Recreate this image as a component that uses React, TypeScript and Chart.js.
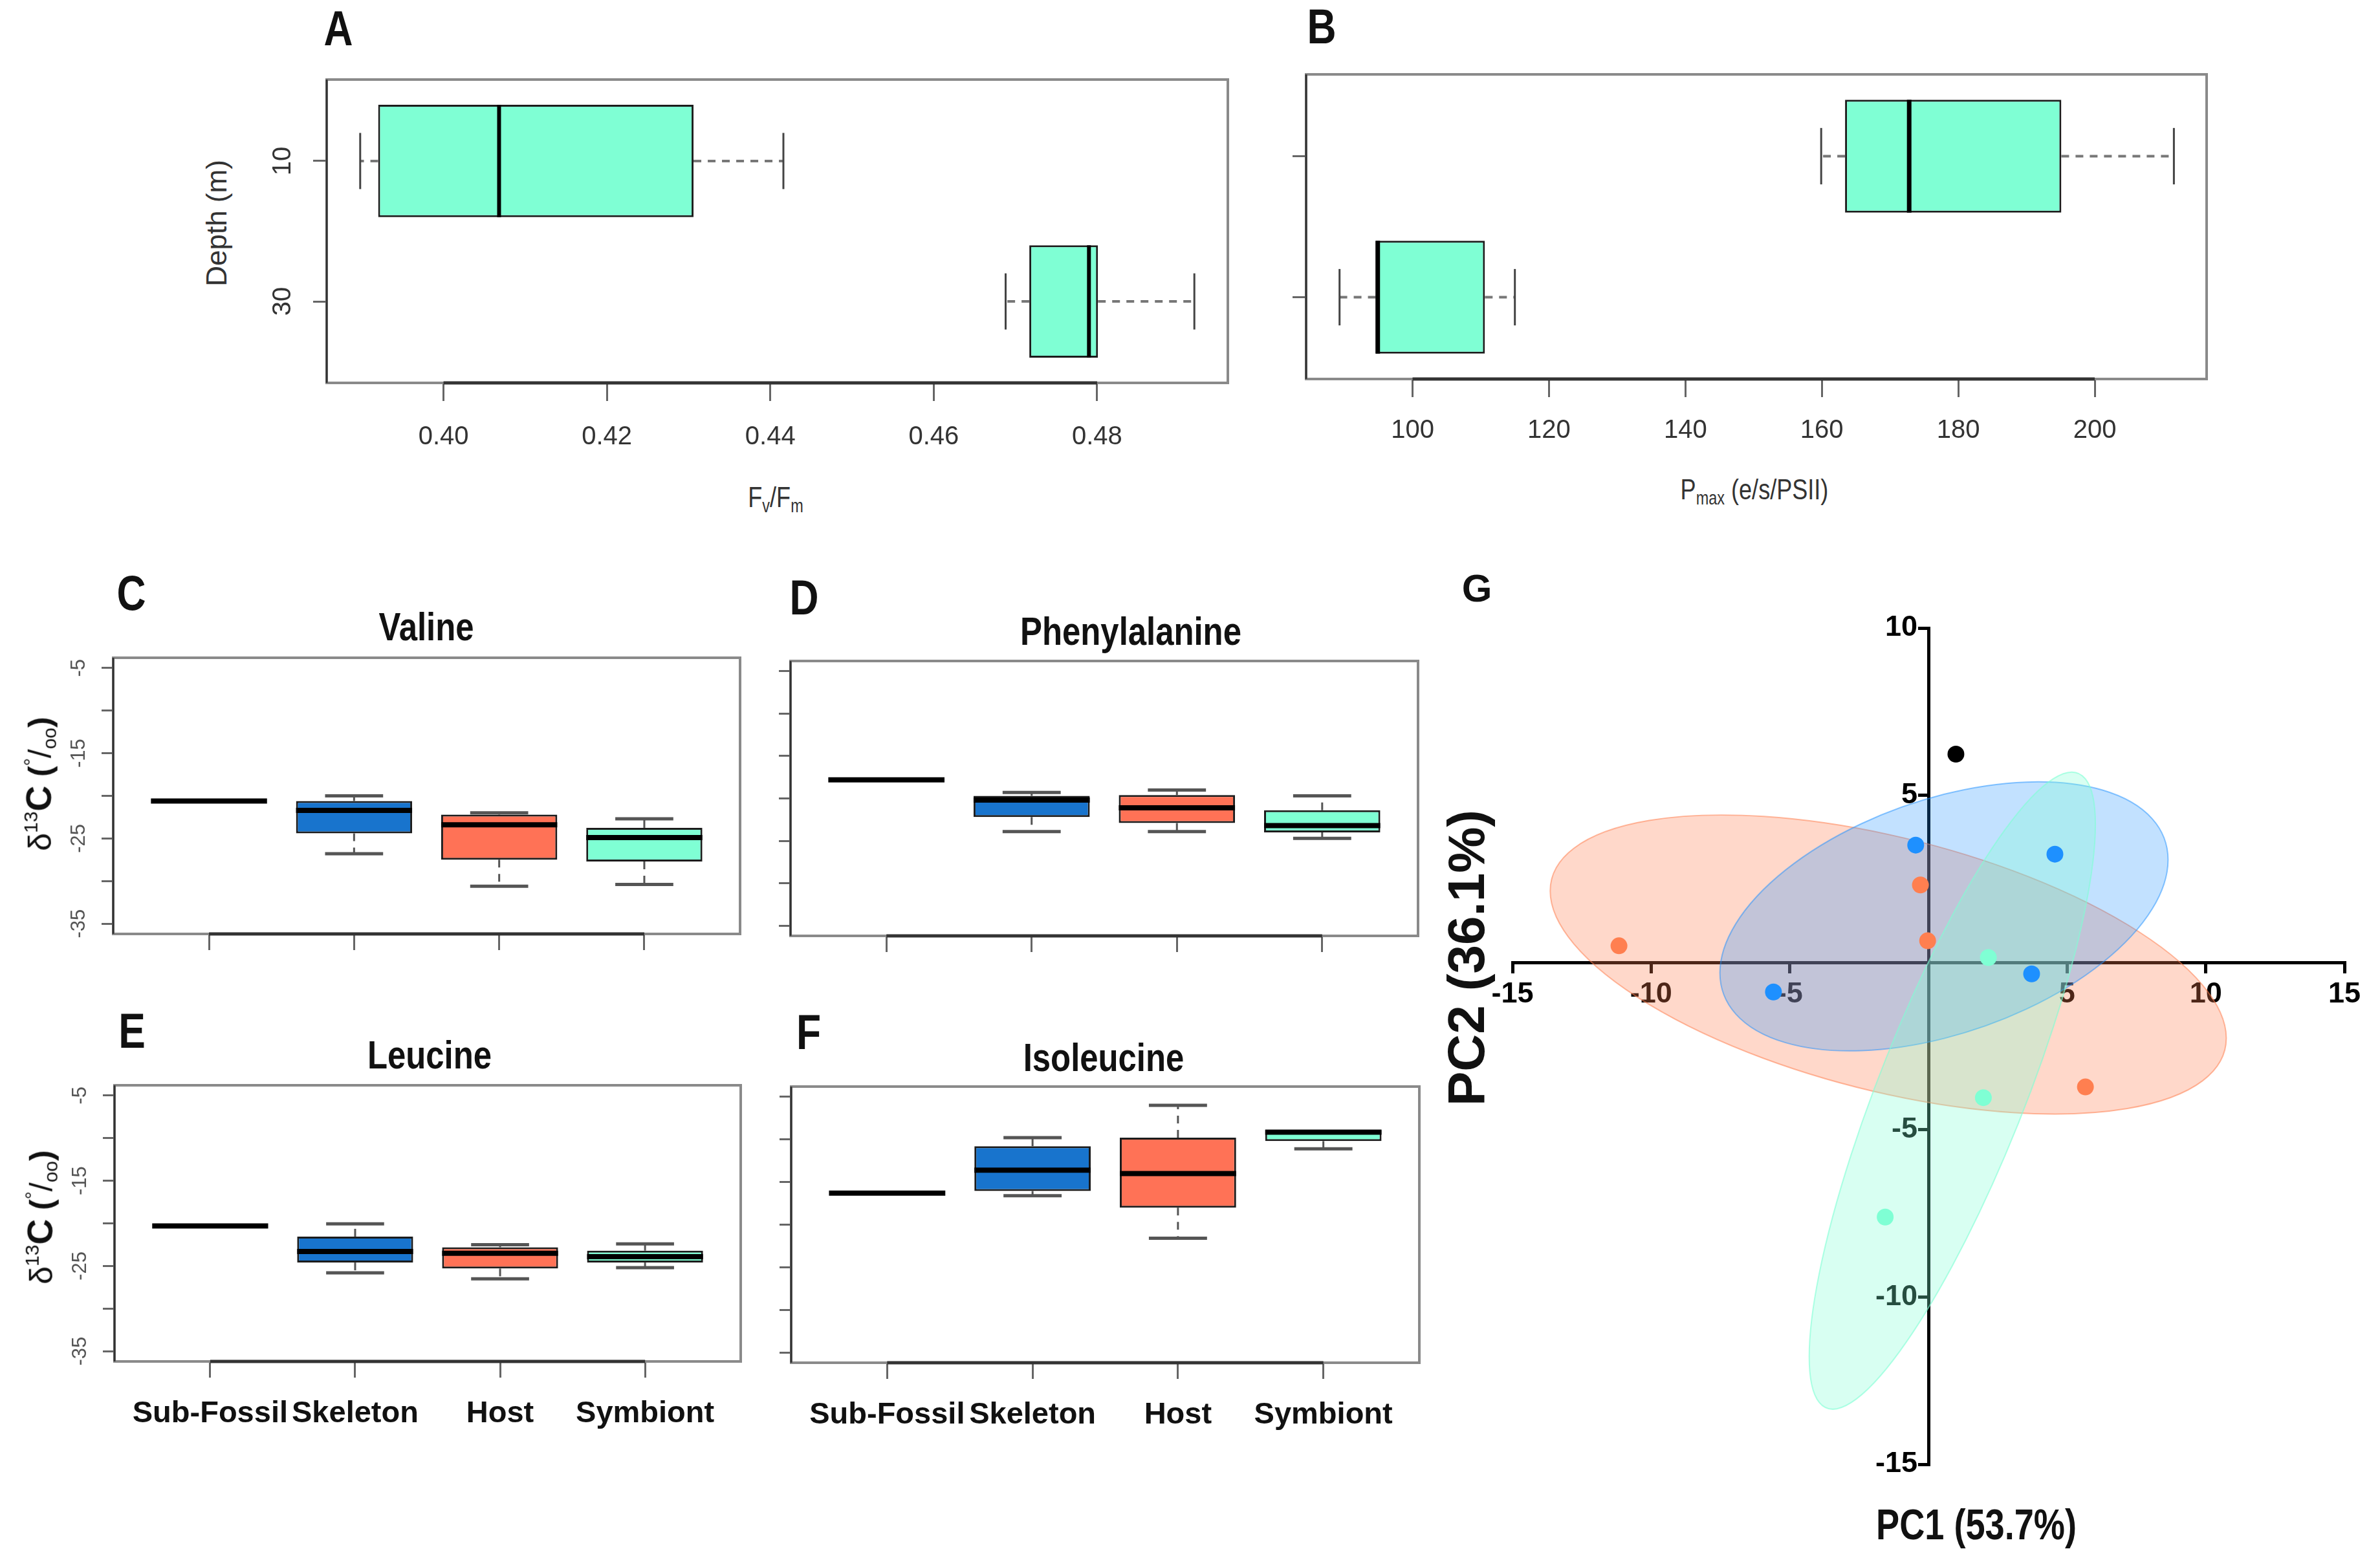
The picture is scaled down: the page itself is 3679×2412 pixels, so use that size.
import React, { useEffect, useRef } from 'react';
import { Chart, registerables } from 'chart.js';

Chart.register(...registerables);

// ---------------- Panel A : Fv/Fm by depth ----------------
const depthLabels = ['10', '30'];
const fvfmMin = [0.3898, 0.4688];
const fvfmQ1 = [0.392, 0.4717];
const fvfmMedian = [0.4068, 0.479];
const fvfmQ3 = [0.4306, 0.4801];
const fvfmMax = [0.4416, 0.4919];
const fvfmTicks = [0.4, 0.42, 0.44, 0.46, 0.48];
const fvfmRange = [0.3857, 0.496];

// ---------------- Panel B : Pmax by depth ----------------
const pmaxMin = [159.9, 89.3];
const pmaxQ1 = [163.4, 94.6];
const pmaxMedian = [172.8, 94.9];
const pmaxQ3 = [195.1, 110.6];
const pmaxMax = [211.6, 115.0];
const pmaxTicks = [100, 120, 140, 160, 180, 200];
const pmaxRange = [84.4, 216.4];

// ---------------- Panels C-F : d13C of amino acids ----------------
const sourceLabels = ['Sub-Fossil', 'Skeleton', 'Host', 'Symbiont'];
const sourceColors = ['rgba(0,0,0,0)', '#1874CD', '#FF7256', '#7FFFD4'];
const d13cTicks = [-35, -30, -25, -20, -15, -10, -5];
const d13cLabelledTicks = [-35, -25, -15, -5];
const d13cRange = [-36.2, -3.8];

const valineMin = [-20.6, -26.8, -30.6, -30.4];
const valineQ1 = [-20.6, -24.4, -27.5, -27.7];
const valineMedian = [-20.6, -21.7, -23.4, -24.9];
const valineQ3 = [-20.6, -20.6, -22.2, -23.75];
const valineMax = [-20.6, -20.0, -22.0, -22.7];

const pheMin = [-17.8, -23.9, -23.9, -24.7];
const pheQ1 = [-17.8, -22.2, -22.9, -24.0];
const pheMedian = [-17.8, -20.2, -21.1, -23.2];
const pheQ3 = [-17.8, -19.7, -19.6, -21.4];
const pheMax = [-17.8, -19.3, -19.0, -19.7];

const leucineMin = [-20.3, -25.8, -26.5, -25.2];
const leucineQ1 = [-20.3, -24.6, -25.3, -24.6];
const leucineMedian = [-20.3, -23.3, -23.5, -23.9];
const leucineQ3 = [-20.3, -21.55, -22.8, -23.2];
const leucineMax = [-20.3, -20.05, -22.5, -22.4];

const isoMin = [-16.3, -16.6, -21.6, -11.1];
const isoQ1 = [-16.3, -16.05, -18.0, -10.2];
const isoMedian = [-16.3, -13.6, -14.0, -9.15];
const isoQ3 = [-16.3, -10.8, -9.8, -8.9];
const isoMax = [-16.3, -9.8, -6.0, -8.9];

// ---------------- Panel G : PCA ----------------
const subFossilPC1 = [0.99];
const subFossilPC2 = [6.23];
const skeletonPC1 = [-0.46, 4.56, -5.59, 3.72];
const skeletonPC2 = [3.51, 3.24, -0.88, -0.34];
const hostPC1 = [-0.29, -0.03, -11.16, 5.66];
const hostPC2 = [2.32, 0.65, 0.5, -3.72];
const symbiontPC1 = [2.16, 1.98, -1.56];
const symbiontPC2 = [0.15, -4.04, -7.61];
const pcaTicks = [-15, -10, -5, 0, 5, 10, 15];

// ellipses (Host, Skeleton, Symbiont): centre, right-most point offset, vertical half-chord
const ellipseCenterPC1 = [-1.45, 0.56, 0.86];
const ellipseCenterPC2 = [-0.06, 1.38, -3.83];
const ellipseRightPC1 = [12.19, 8.08, 5.16];
const ellipseRightPC2 = [-2.2, 1.69, 7.95];
const ellipseHalfChordPC2 = [3.89, 3.65, 5.24];
const ellipseFill = ['rgba(255,127,80,0.3)', 'rgba(30,144,255,0.27)', 'rgba(127,255,212,0.3)'];
const ellipseStroke = ['rgba(255,127,80,0.55)', 'rgba(30,144,255,0.5)', 'rgba(127,255,212,0.6)'];

const SANS = "'Liberation Sans', Arial, sans-serif";

// ---------------- plugins ----------------
const whiskerPlugin: any = {
  id: 'rWhiskers',
  afterDatasetsDraw(chart: any, _a: any, o: any) {
    const ctx = chart.ctx;
    const iScale = o.horizontal ? chart.scales.y : chart.scales.x;
    const vScale = o.horizontal ? chart.scales.x : chart.scales.y;
    const P = (i: number, v: number) =>
      o.horizontal ? [vScale.getPixelForValue(v), iScale.getPixelForValue(i)] : [iScale.getPixelForValue(i), vScale.getPixelForValue(v)];
    const seg = (a: number[], b: number[]) => {
      ctx.beginPath();
      ctx.moveTo(a[0], a[1]);
      ctx.lineTo(b[0], b[1]);
      ctx.stroke();
    };
    ctx.save();
    ctx.lineCap = 'butt';
    o.mins.forEach((lo: number, k: number) => {
      const pos = k + 1;
      const q1 = o.q1s[k], med = o.meds[k], q3 = o.q3s[k], hi = o.maxs[k];
      ctx.setLineDash(o.dash);
      ctx.strokeStyle = o.whiskerColor;
      ctx.lineWidth = o.whiskerWidth;
      if (q1 !== lo) seg(P(pos, q1), P(pos, lo));
      if (q3 !== hi) seg(P(pos, q3), P(pos, hi));
      ctx.setLineDash([]);
      ctx.strokeStyle = o.capColor;
      ctx.lineWidth = o.capWidth;
      if (q1 !== lo) seg(P(pos - 0.2, lo), P(pos + 0.2, lo));
      if (q3 !== hi) seg(P(pos - 0.2, hi), P(pos + 0.2, hi));
      ctx.strokeStyle = '#000';
      ctx.lineWidth = o.medianWidth;
      seg(P(pos - 0.4, med), P(pos + 0.4, med));
    });
    ctx.restore();
  },
};

const framePlugin: any = {
  id: 'rFrame',
  afterDraw(chart: any, _a: any, o: any) {
    const ctx = chart.ctx;
    const a = chart.chartArea;
    ctx.save();
    ctx.strokeStyle = '#8a8a8a';
    ctx.lineWidth = 4;
    ctx.strokeRect(a.left, a.top, a.right - a.left, a.bottom - a.top);
    ctx.strokeStyle = '#333';
    ctx.lineWidth = 3;
    ctx.beginPath();
    ctx.moveTo(a.left, a.top);
    ctx.lineTo(a.left, a.bottom);
    ctx.stroke();
    const xs = chart.scales.x;
    ctx.lineWidth = 5;
    ctx.beginPath();
    ctx.moveTo(xs.getPixelForValue(o.axisFrom), a.bottom);
    ctx.lineTo(xs.getPixelForValue(o.axisTo), a.bottom);
    ctx.stroke();
    ctx.restore();
  },
};

const ellipsePlugin: any = {
  id: 'pcaEllipses',
  beforeDatasetsDraw(chart: any) {
    const ctx = chart.ctx;
    const x = chart.scales.x;
    const y = chart.scales.y;
    ellipseCenterPC1.forEach((c1: number, i: number) => {
      const c2 = ellipseCenterPC2[i];
      const cx = x.getPixelForValue(c1);
      const cy = y.getPixelForValue(c2);
      const ax = x.getPixelForValue(c1 + ellipseRightPC1[i]) - cx;
      const ay = y.getPixelForValue(c2 + ellipseRightPC2[i]) - cy;
      const by = y.getPixelForValue(c2 + ellipseHalfChordPC2[i]) - cy;
      ctx.save();
      ctx.beginPath();
      ctx.transform(ax, ay, 0, by, cx, cy);
      ctx.arc(0, 0, 1, 0, Math.PI * 2);
      ctx.restore();
      ctx.save();
      ctx.fillStyle = ellipseFill[i];
      ctx.fill();
      ctx.strokeStyle = ellipseStroke[i];
      ctx.lineWidth = 2;
      ctx.stroke();
      ctx.restore();
    });
  },
};

// ---------------- config builders ----------------
function boxplotConfig(o: any) {
  const positions = o.mins.map((_: number, i: number) => i + 1);
  const catScale: any = {
    type: 'linear',
    min: o.catMin,
    max: o.catMax,
    offset: false,
    reverse: o.horizontal,
    afterBuildTicks: (s: any) => {
      s.ticks = positions.map((v: number) => ({ value: v }));
    },
    ticks: {
      autoSkip: false,
      callback: (v: number) => o.catLabels[Math.round(v) - 1] ?? '',
      font: o.catFont,
      color: o.catColor,
      padding: o.catPadding,
      minRotation: o.horizontal ? 90 : 0,
      maxRotation: o.horizontal ? 90 : 0,
      crossAlign: 'center',
    },
    grid: { offset: false, drawOnChartArea: false, drawTicks: true, tickLength: o.catTickLen, color: '#666', lineWidth: 3 },
    border: { display: false },
  };
  const valScale: any = {
    type: 'linear',
    min: o.valMin,
    max: o.valMax,
    afterBuildTicks: (s: any) => {
      s.ticks = o.valTicks.map((v: number) => ({ value: v }));
    },
    ticks: {
      autoSkip: false,
      callback: (v: number) => o.valLabel(v),
      font: o.valFont,
      color: o.valColor,
      padding: o.valPadding,
      minRotation: o.horizontal ? 0 : 90,
      maxRotation: o.horizontal ? 0 : 90,
      crossAlign: 'center',
    },
    grid: { drawOnChartArea: false, drawTicks: true, tickLength: o.valTickLen, color: '#666', lineWidth: 3 },
    border: { display: false },
  };
  const bottom = o.horizontal ? valScale : catScale;
  const left = o.horizontal ? catScale : valScale;
  bottom.position = 'bottom';
  left.position = 'left';
  bottom.afterFit = (s: any) => {
    s.height = o.m.mb;
  };
  left.afterFit = (s: any) => {
    s.width = o.m.ml;
  };
  return {
    type: 'bar',
    data: {
      datasets: [
        {
          data: positions.map((p: number, i: number) =>
            o.horizontal ? { y: p, x: [o.q1s[i], o.q3s[i]] } : { x: p, y: [o.q1s[i], o.q3s[i]] }
          ),
          backgroundColor: o.colors,
          borderColor: '#1c1c1c',
          borderWidth: 3,
          borderSkipped: false,
          categoryPercentage: 1,
          barPercentage: 0.8,
        },
      ],
    },
    options: {
      indexAxis: o.horizontal ? 'y' : 'x',
      animation: false,
      responsive: false,
      devicePixelRatio: 1,
      layout: { padding: { left: 0, top: o.m.mt, right: o.m.mr, bottom: 0 } },
      plugins: {
        legend: { display: false },
        tooltip: { enabled: false },
        rWhiskers: {
          horizontal: o.horizontal,
          mins: o.mins,
          q1s: o.q1s,
          meds: o.meds,
          q3s: o.q3s,
          maxs: o.maxs,
          dash: o.dash,
          whiskerColor: o.whiskerColor,
          whiskerWidth: o.whiskerWidth,
          capColor: o.capColor,
          capWidth: o.capWidth,
          medianWidth: o.medianWidth,
        },
        rFrame: { axisFrom: o.axisFrom, axisTo: o.axisTo },
      },
      scales: { x: bottom, y: left },
    },
    plugins: [whiskerPlugin, framePlugin],
  };
}

function aminoConfig(mins: number[], q1s: number[], meds: number[], q3s: number[], maxs: number[], showY: boolean, showX: boolean, m: any) {
  return boxplotConfig({
    horizontal: false,
    mins, q1s, meds, q3s, maxs,
    colors: sourceColors,
    catMin: 0.34,
    catMax: 4.66,
    catLabels: showX ? sourceLabels : ['', '', '', ''],
    catFont: { family: SANS, size: 47, weight: 'bold' },
    catColor: '#111',
    catPadding: 56,
    catTickLen: 25,
    valMin: d13cRange[0],
    valMax: d13cRange[1],
    valTicks: d13cTicks,
    valLabel: (v: number) => (showY && d13cLabelledTicks.includes(v) ? String(v) : ''),
    valFont: { family: SANS, size: 31 },
    valColor: '#555',
    valPadding: 12,
    valTickLen: 18,
    axisFrom: 1,
    axisTo: 4,
    dash: [12, 10],
    whiskerColor: '#555',
    whiskerWidth: 3,
    capColor: '#555',
    capWidth: 5,
    medianWidth: 8,
    m,
  });
}

const mA = { ml: 140, mt: 60, mr: 60, mb: 140 };
const mB = { ml: 80, mt: 60, mr: 60, mb: 140 };
const mTop = { ml: 110, mt: 40, mr: 30, mb: 50 };
const mBot = { ml: 110, mt: 40, mr: 30, mb: 160 };
const mG = { ml: 100, mt: 40, mr: 50, mb: 40 };

const rectA = { l: 505, t: 123, r: 1898, b: 592 };
const rectB = { l: 2019, t: 115, r: 3411, b: 586 };
const rectC = { l: 175, t: 1017, r: 1144, b: 1444 };
const rectD = { l: 1222, t: 1022, r: 2192, b: 1447 };
const rectE = { l: 177, t: 1678, r: 1145, b: 2105 };
const rectF = { l: 1223, t: 1680, r: 2194, b: 2107 };
const rectG = { l: 2338, t: 971, r: 3624, b: 2264 };

function configA() {
  return boxplotConfig({
    horizontal: true,
    mins: fvfmMin, q1s: fvfmQ1, meds: fvfmMedian, q3s: fvfmQ3, maxs: fvfmMax,
    colors: ['#7FFFD4', '#7FFFD4'],
    catMin: 0.42,
    catMax: 2.58,
    catLabels: depthLabels,
    catFont: { family: SANS, size: 40 },
    catColor: '#333',
    catPadding: 24,
    catTickLen: 21,
    valMin: fvfmRange[0],
    valMax: fvfmRange[1],
    valTicks: fvfmTicks,
    valLabel: (v: number) => v.toFixed(2),
    valFont: { family: SANS, size: 40 },
    valColor: '#333',
    valPadding: 56,
    valTickLen: 28,
    axisFrom: fvfmTicks[0],
    axisTo: fvfmTicks[fvfmTicks.length - 1],
    dash: [12, 10],
    whiskerColor: '#777',
    whiskerWidth: 4,
    capColor: '#444',
    capWidth: 3,
    medianWidth: 6,
    m: mA,
  });
}

function configB() {
  return boxplotConfig({
    horizontal: true,
    mins: pmaxMin, q1s: pmaxQ1, meds: pmaxMedian, q3s: pmaxQ3, maxs: pmaxMax,
    colors: ['#7FFFD4', '#7FFFD4'],
    catMin: 0.42,
    catMax: 2.58,
    catLabels: ['', ''],
    catFont: { family: SANS, size: 40 },
    catColor: '#333',
    catPadding: 24,
    catTickLen: 21,
    valMin: pmaxRange[0],
    valMax: pmaxRange[1],
    valTicks: pmaxTicks,
    valLabel: (v: number) => String(v),
    valFont: { family: SANS, size: 40 },
    valColor: '#333',
    valPadding: 52,
    valTickLen: 28,
    axisFrom: pmaxTicks[0],
    axisTo: pmaxTicks[pmaxTicks.length - 1],
    dash: [12, 10],
    whiskerColor: '#777',
    whiskerWidth: 4,
    capColor: '#444',
    capWidth: 3,
    medianWidth: 7,
    m: mB,
  });
}

function configG() {
  const pts = (xs: number[], ys: number[]) => xs.map((x, i) => ({ x, y: ys[i] }));
  const tickFont = { family: SANS, size: 45, weight: 'bold' };
  const common = {
    type: 'linear',
    min: -15,
    z: 1,
    afterBuildTicks: (s: any) => {
      s.ticks = pcaTicks.filter((v) => v >= s.min && v <= s.max).map((v) => ({ value: v }));
    },
    grid: { drawOnChartArea: false, drawTicks: true, tickLength: 14, lineWidth: 5, color: '#000' },
    border: { display: true, color: '#000', width: 5 },
  };
  return {
    type: 'scatter',
    data: {
      datasets: [
        { data: pts(skeletonPC1, skeletonPC2), backgroundColor: '#1E90FF', pointRadius: 13, borderWidth: 0 },
        { data: pts(hostPC1, hostPC2), backgroundColor: '#FF7F50', pointRadius: 13, borderWidth: 0 },
        { data: pts(symbiontPC1, symbiontPC2), backgroundColor: '#7FFFD4', pointRadius: 13, borderWidth: 0 },
        { data: pts(subFossilPC1, subFossilPC2), backgroundColor: '#000000', pointRadius: 13, borderWidth: 0 },
      ],
    },
    options: {
      animation: false,
      responsive: false,
      devicePixelRatio: 1,
      layout: { padding: { left: mG.ml, top: mG.mt, right: mG.mr, bottom: mG.mb } },
      plugins: { legend: { display: false }, tooltip: { enabled: false } },
      scales: {
        x: {
          ...common,
          max: 15,
          position: { y: 0 },
          ticks: { autoSkip: false, font: tickFont, color: '#000', padding: 8, maxRotation: 0, callback: (v: number) => (v === 0 ? '' : String(v)) },
        },
        y: {
          ...common,
          max: 10,
          position: 'center',
          ticks: { autoSkip: false, font: tickFont, color: '#000', padding: 3, callback: (v: number) => (v === 0 ? '' : String(v)) },
        },
      },
    },
    plugins: [ellipsePlugin],
  };
}

// ---------------- components ----------------
function PanelChart({ rect, m, make }: any) {
  const ref = useRef<HTMLCanvasElement | null>(null);
  const w = rect.r - rect.l + m.ml + m.mr;
  const h = rect.b - rect.t + m.mt + m.mb;
  useEffect(() => {
    const chart = new Chart(ref.current as HTMLCanvasElement, make() as any);
    return () => chart.destroy();
  }, []);
  return (
    <canvas
      ref={ref}
      width={w}
      height={h}
      style={{ position: 'absolute', left: rect.l - m.ml, top: rect.t - m.mt, width: w, height: h }}
    />
  );
}

function Txt({ x, y, rotate, sx, style, children }: any) {
  return (
    <div
      style={{
        position: 'absolute',
        left: x,
        top: y,
        transform: `translate(-50%, -50%)${rotate ? ` rotate(${rotate}deg)` : ''}${sx ? ` scaleX(${sx})` : ''}`,
        whiteSpace: 'nowrap',
        lineHeight: 1,
        ...style,
      }}
    >
      {children}
    </div>
  );
}

const letterStyle = { fontFamily: SANS, fontWeight: 'bold', fontSize: 76, color: '#111' };
const titleStyle = { fontFamily: SANS, fontWeight: 'bold', fontSize: 62, color: '#111' };
const subStyle: any = { fontSize: '0.65em', verticalAlign: '-0.3em' };

function DeltaLabel({ x, y }: any) {
  return (
    <Txt x={x} y={y} rotate={-90} style={{ fontFamily: SANS, fontSize: 50, color: '#111' }}>
      <span>δ</span>
      <span style={{ fontSize: '0.6em', verticalAlign: '0.7em' }}>13</span>
      <span style={{ fontWeight: 'bold', fontSize: '1.1em' }}>C</span>
      <span style={{ fontWeight: 'bold' }}> (</span>
      <span style={{ fontSize: '0.6em', verticalAlign: '0.7em' }}>°</span>
      <span>/</span>
      <span style={{ fontSize: '0.6em', verticalAlign: '-0.25em' }}>oo</span>
      <span style={{ fontWeight: 'bold' }}>)</span>
    </Txt>
  );
}

export default function App() {
  useEffect(() => {
    document.body.style.margin = '0';
  }, []);
  const N = 0.82;
  return (
    <div style={{ position: 'relative', width: 3679, height: 2412, background: '#fff', overflow: 'hidden' }}>
      <PanelChart rect={rectA} m={mA} make={configA} />
      <PanelChart rect={rectB} m={mB} make={configB} />
      <PanelChart rect={rectC} m={mTop} make={() => aminoConfig(valineMin, valineQ1, valineMedian, valineQ3, valineMax, true, false, mTop)} />
      <PanelChart rect={rectD} m={mTop} make={() => aminoConfig(pheMin, pheQ1, pheMedian, pheQ3, pheMax, false, false, mTop)} />
      <PanelChart rect={rectE} m={mBot} make={() => aminoConfig(leucineMin, leucineQ1, leucineMedian, leucineQ3, leucineMax, true, true, mBot)} />
      <PanelChart rect={rectF} m={mBot} make={() => aminoConfig(isoMin, isoQ1, isoMedian, isoQ3, isoMax, false, true, mBot)} />
      <PanelChart rect={rectG} m={mG} make={configG} />

      <Txt x={523} y={44} sx={N} style={letterStyle}>A</Txt>
      <Txt x={2043} y={41} sx={N} style={letterStyle}>B</Txt>
      <Txt x={203} y={917} sx={N} style={letterStyle}>C</Txt>
      <Txt x={1243} y={924} sx={N} style={letterStyle}>D</Txt>
      <Txt x={204} y={1594} sx={N} style={letterStyle}>E</Txt>
      <Txt x={1250} y={1596} sx={N} style={letterStyle}>F</Txt>
      <Txt x={2283} y={910} style={{ fontFamily: SANS, fontWeight: 'bold', fontSize: 60, color: '#111' }}>G</Txt>

      <Txt x={659} y={969} sx={N} style={titleStyle}>Valine</Txt>
      <Txt x={1748} y={976} sx={N} style={titleStyle}>Phenylalanine</Txt>
      <Txt x={664} y={1631} sx={N} style={titleStyle}>Leucine</Txt>
      <Txt x={1706} y={1635} sx={N} style={titleStyle}>Isoleucine</Txt>

      <Txt x={335} y={345} rotate={-90} style={{ fontFamily: SANS, fontSize: 44, color: '#333' }}>Depth (m)</Txt>
      <Txt x={1199} y={772} sx={N} style={{ fontFamily: SANS, fontSize: 44, color: '#333' }}>
        F<span style={subStyle}>v</span>/F<span style={subStyle}>m</span>
      </Txt>
      <Txt x={2712} y={760} sx={N} style={{ fontFamily: SANS, fontSize: 44, color: '#333' }}>
        P<span style={subStyle}>max</span> (e/s/PSII)
      </Txt>

      <DeltaLabel x={62} y={1212} />
      <DeltaLabel x={64} y={1882} />

      <Txt x={3055} y={2357} sx={N} style={{ fontFamily: SANS, fontWeight: 'bold', fontSize: 66, color: '#111' }}>PC1 (53.7%)</Txt>
      <Txt x={2267} y={1481} rotate={-90} style={{ fontFamily: SANS, fontWeight: 'bold', fontSize: 80, color: '#111' }}>PC2 (36.1%)</Txt>
    </div>
  );
}
